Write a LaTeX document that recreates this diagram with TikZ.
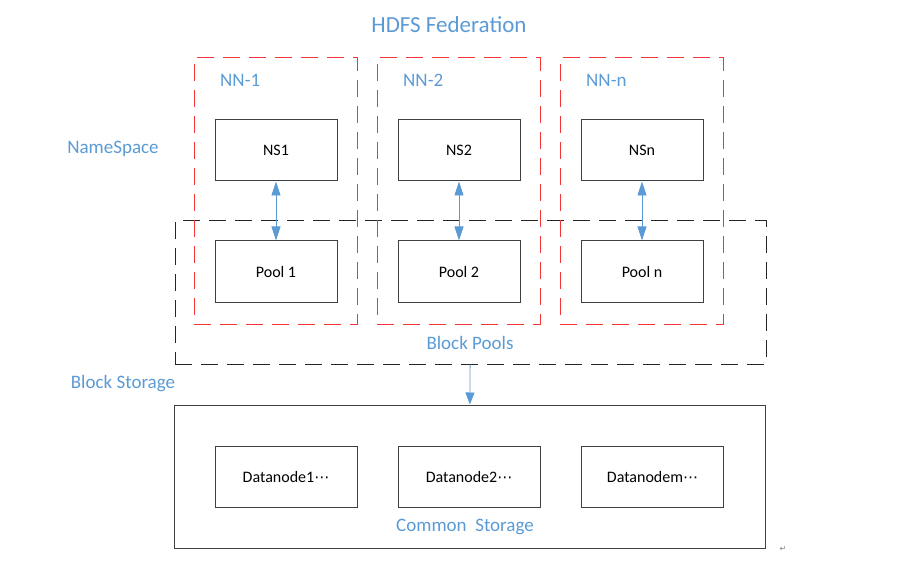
\documentclass[tikz,border=0pt]{standalone}
\usepackage{fontspec}
\setmainfont{Carlito}
\newfontfamily\symfont{DejaVu Sans}
\usetikzlibrary{arrows.meta, positioning}
\definecolor{hblue}{HTML}{5B9BD5}
\definecolor{hred}{HTML}{F53535}

\begin{document}
\begin{tikzpicture}[x=1pt, y=-1pt,
    box/.style = {draw=black!75, line width=1pt, minimum width=122pt,
                  minimum height=61pt, inner sep=0pt, font=\fontsize{16}{16}\selectfont},
    nnbox/.style = {draw=hred, line width=1pt, dash pattern=on 17pt off 9pt,
                    minimum width=163pt, minimum height=266pt, inner sep=0pt},
    areabox/.style = {line width=1pt, minimum width=591pt, minimum height=143pt, inner sep=0pt},
    lbl/.style = {text=hblue, inner sep=0pt, font=\fontsize{19}{19}\selectfont},
    link/.style = {draw=hblue, line width=0.8pt, {Triangle[width=9pt, length=14pt]}-{Triangle[width=9pt, length=14pt]}},
    feed/.style = {draw=hblue, line width=0.8pt, -{Triangle[width=9pt, length=12pt]}} ]

   \useasboundingbox (0,0) rectangle (920,561);

   \node (title) [lbl, font=\fontsize{23}{23}\selectfont] at (449,25) {HDFS Federation};
   \node (space) [lbl] at (113,149) {NameSpace};
   \node (bstore) [lbl] at (123,384) {Block Storage};

   % block pools layer
   \node (pools) [areabox, draw=black!85, dash pattern=on 17pt off 9pt] at (470.5,292.5) {};
   \node (plbl) [lbl] at (470,343) {Block Pools};

   % one column per namenode
   \foreach \i/\x/\s in {1/276/1, 2/459/2, 3/642/n} {
      \node (nn\i) [nnbox] at (\x-0.5,191) {};
      \node (nnl\i) [lbl, anchor=west] at (\x-56,80) {NN-\s};
      \node (ns\i) [box] at (\x,150.5) {NS\s};
      \node (pool\i) [box] at (\x,271.5) {Pool \s};
      \draw [link] (ns\i) -- (pool\i);
   }

   % common storage
   \node (store) [areabox, draw=black!75] at (469.5,476.5) {};
   \node (dn1) [box, minimum width=142pt] at (286,476.5) {Datanode1{\symfont\fontsize{15}{15}\selectfont ⋯}};
   \node (dn2) [box, minimum width=142pt] at (469,476.5) {Datanode2{\symfont\fontsize{15}{15}\selectfont ⋯}};
   \node (dnm) [box, minimum width=142pt] at (652.5,476.5) {Datanodem{\symfont\fontsize{15}{15}\selectfont ⋯}};
   \node (slbl) [lbl] at (465,527) {Common\ \ Storage};
   \draw [feed] (pools) -- (store);

   \node (mark) [text=black!50, font=\symfont\fontsize{8}{8}\selectfont] at (783,549) {↵};
\end{tikzpicture}
\end{document}
